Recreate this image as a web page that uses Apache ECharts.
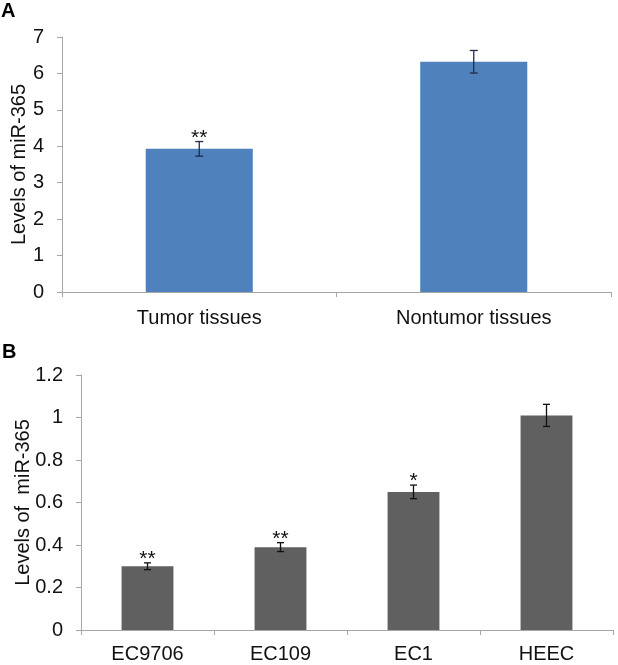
<!DOCTYPE html>
<html>
<head>
<meta charset="utf-8">
<script src="https://cdn.jsdelivr.net/npm/echarts@6/dist/echarts.min.js"></script>
<style>
html,body{margin:0;padding:0;background:#fff;}
#chart{width:618px;height:665px;}
</style>
</head>
<body>
<div id="chart"></div>
<script>
// Panel A data
var categoriesA = ['Tumor tissues', 'Nontumor tissues'];
var valuesA = [3.93, 6.32];
var errorsA = [0.2, 0.31];
var starsA = ['**', ''];
var yTicksA = [0, 1, 2, 3, 4, 5, 6, 7];

// Panel B data
var categoriesB = ['EC9706', 'EC109', 'EC1', 'HEEC'];
var valuesB = [0.30, 0.39, 0.65, 1.01];
var errorsB = [0.016, 0.021, 0.032, 0.052];
var starsB = ['**', '**', '*', ''];
var yTicksB = [0, 0.2, 0.4, 0.6, 0.8, 1.0, 1.2];

var FONT = '"Liberation Sans", Arial, sans-serif';
var AXIS_COLOR = '#a6a6a6';

function errData(vals, errs) {
  return vals.map(function (v, i) { return [i, v, errs[i]]; });
}

function makeErrRender(color, capHalf) {
  return function (params, api) {
    var idx = api.value(0), v = api.value(1), e = api.value(2);
    var top = api.coord([idx, v + e]);
    var bot = api.coord([idx, v - e]);
    return {type: 'group', children: [
      {type: 'line', shape: {x1: top[0], y1: top[1], x2: bot[0], y2: bot[1]}, style: {stroke: color, lineWidth: 1.3}},
      {type: 'line', shape: {x1: top[0] - capHalf, y1: top[1], x2: top[0] + capHalf, y2: top[1]}, style: {stroke: color, lineWidth: 1.3}},
      {type: 'line', shape: {x1: bot[0] - capHalf, y1: bot[1], x2: bot[0] + capHalf, y2: bot[1]}, style: {stroke: color, lineWidth: 1.3}}
    ]};
  };
}

function makeStarRender(stars) {
  return function (params, api) {
    var idx = api.value(0), v = api.value(1), e = api.value(2);
    var top = api.coord([idx, v + e]);
    return {
      type: 'text',
      style: {text: stars[idx], x: top[0], y: top[1] + 7, align: 'center', verticalAlign: 'bottom',
              font: '21px ' + FONT, fill: '#111'}
    };
  };
}

var chart = echarts.init(document.getElementById('chart'), null, {renderer: 'canvas'});

function yAxisCommon(gridIndex, ticks, name, gap, margin) {
  return {
    type: 'value', gridIndex: gridIndex,
    min: ticks[0], max: ticks[ticks.length - 1], interval: ticks[1] - ticks[0],
    name: name, nameLocation: 'middle', nameGap: gap, nameMoveOverlap: false,
    nameTextStyle: {fontFamily: FONT, fontSize: 20, color: '#111'},
    axisLine: {show: true, lineStyle: {color: AXIS_COLOR, width: 1}},
    axisTick: {show: true, length: 5, lineStyle: {color: AXIS_COLOR}},
    axisLabel: {fontFamily: FONT, fontSize: 20, color: '#111', margin: margin},
    splitLine: {show: false}
  };
}

function xAxisCommon(gridIndex, cats, labelMargin) {
  return {
    type: 'category', gridIndex: gridIndex, data: cats,
    axisLine: {show: true, lineStyle: {color: AXIS_COLOR, width: 1}},
    axisTick: {show: true, length: 5, interval: 0, lineStyle: {color: AXIS_COLOR}},
    axisLabel: {fontFamily: FONT, fontSize: 20, color: '#111', margin: labelMargin, interval: 0},
    splitLine: {show: false}
  };
}

chart.setOption({
  animation: false,
  backgroundColor: '#fff',
  textStyle: {fontFamily: FONT},
  graphic: [
    {type: 'text', left: 1, top: 1, style: {text: 'A', font: 'bold 20px ' + FONT, fill: '#000'}},
    {type: 'text', left: 2, top: 342, style: {text: 'B', font: 'bold 20px ' + FONT, fill: '#000'}}
  ],
  grid: [
    {left: 62, right: 7, top: 37, bottom: 373, containLabel: false, outerBoundsMode: 'none'},
    {left: 81, right: 5, top: 375, bottom: 35, containLabel: false, outerBoundsMode: 'none'}
  ],
  xAxis: [xAxisCommon(0, categoriesA, 16), xAxisCommon(1, categoriesB, 14)],
  yAxis: [yAxisCommon(0, yTicksA, 'Levels of miR-365', 33, 18), yAxisCommon(1, yTicksB, 'Levels of  miR-365', 48, 18)],
  series: [
    {type: 'bar', xAxisIndex: 0, yAxisIndex: 0, data: valuesA, barWidth: '39%',
     itemStyle: {color: '#4f81bd'}},
    {type: 'bar', xAxisIndex: 1, yAxisIndex: 1, data: valuesB, barWidth: '39%',
     itemStyle: {color: '#606060'}},
    {type: 'custom', xAxisIndex: 0, yAxisIndex: 0, data: errData(valuesA, errorsA),
     renderItem: makeStarRender(starsA), z: 10},
    {type: 'custom', xAxisIndex: 1, yAxisIndex: 1, data: errData(valuesB, errorsB),
     renderItem: makeStarRender(starsB), z: 10},
    {type: 'custom', xAxisIndex: 0, yAxisIndex: 0, data: errData(valuesA, errorsA),
     renderItem: makeErrRender('#1f2d4a', 4), z: 10},
    {type: 'custom', xAxisIndex: 1, yAxisIndex: 1, data: errData(valuesB, errorsB),
     renderItem: makeErrRender('#111', 3.5), z: 10}
  ]
});
</script>
</body>
</html>
